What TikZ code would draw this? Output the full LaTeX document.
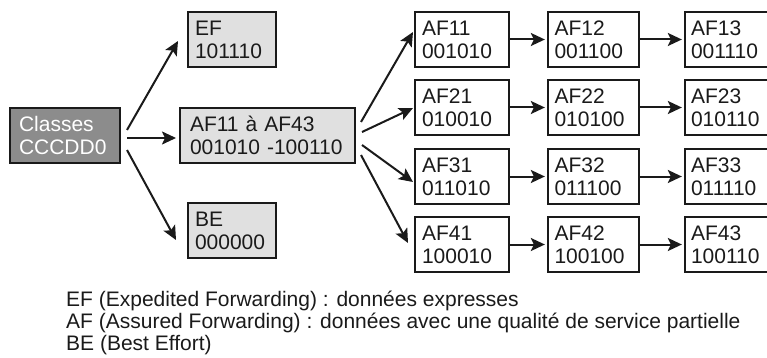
\documentclass[tikz,border=0pt]{standalone}
\usepackage{fontspec}
\setmainfont{Liberation Sans}
\usetikzlibrary{arrows.meta}
\definecolor{darkfill}{HTML}{8C8C8C}
\definecolor{lightfill}{HTML}{E0E0E0}
\definecolor{ink}{HTML}{1A1A1A}
\tikzset{
  box/.style={draw=ink, line width=2.3pt, minimum height=55pt, inner xsep=0pt, inner ysep=0pt,
    align=left, font=\fontsize{21}{23}\selectfont, text=ink},
  arr/.style={draw=ink, line width=2pt, -{Stealth[length=14pt,width=13pt,inset=3pt]}},
  legend/.style={align=left, font=\fontsize{21}{22}\selectfont, text=ink, inner sep=0pt}
}
\begin{document}
\begin{tikzpicture}[x=1pt,y=-1pt]
\useasboundingbox (0,0) rectangle (767,358);
\clip (0,0) rectangle (767,358);
% left column
\node[box, fill=darkfill, text=white, minimum width=110pt, text width=92pt] (cls) at (65,135.5) {Classes\\CCCDD0};
\node[box, fill=lightfill, minimum width=88pt, text width=74pt] (ef) at (232,39.5) {EF\\101110};
\node[box, fill=lightfill, minimum width=175pt, text width=155pt] (af) at (267.5,135.5) {AF11 à AF43\\001010 -100110};
\node[box, fill=lightfill, minimum width=88pt, text width=74pt] (be) at (232,230.5) {BE\\000000};
% grid
\foreach \r/\y/\a/\b/\c in {1/39.5/001010/001100/001110, 2/107.5/010010/010100/010110, 3/176.5/011010/011100/011110, 4/244.5/100010/100100/100110}{
  \node[box, fill=white, minimum width=94pt, text width=80pt] (g\r1) at (462,\y) {AF\r1\\\a};
  \node[box, fill=white, minimum width=91pt, text width=78pt] (g\r2) at (593.5,\y) {AF\r2\\\b};
  \node[box, fill=white, minimum width=90pt, text width=78pt] (g\r3) at (730,\y) {AF\r3\\\c};
  \draw[arr] (g\r1.east) -- ([xshift=-2pt]g\r2.west);
  \draw[arr] (g\r2.east) -- ([xshift=-2pt]g\r3.west);
}
% coordinates for arrows
\coordinate (c1) at (127,130);
\coordinate (c2) at (127,138);
\coordinate (c3) at (127,150);
\coordinate (e1) at (178,41);
\coordinate (e2) at (176,138);
\coordinate (e3) at (176,240);
\draw[arr] (c1) -- (e1);
\draw[arr] (c2) -- (e2);
\draw[arr] (c3) -- (e3);
\coordinate (s1) at (361,122);
\coordinate (s2) at (362,132);
\coordinate (s3) at (362,145);
\coordinate (s4) at (361,155);
\coordinate (t1) at (413,32);
\coordinate (t2) at (413,108);
\coordinate (t3) at (413,182);
\coordinate (t4) at (408,243);
\draw[arr] (s1) -- (t1);
\draw[arr] (s2) -- (t2);
\draw[arr] (s3) -- (t3);
\draw[arr] (s4) -- (t4);
% legend
\node[legend, anchor=base west] (leg) at (66,350) {EF (Expedited Forwarding) : données expresses\\AF (Assured Forwarding) : données avec une qualité de service partielle\\BE (Best Effort)};
\end{tikzpicture}
\end{document}
